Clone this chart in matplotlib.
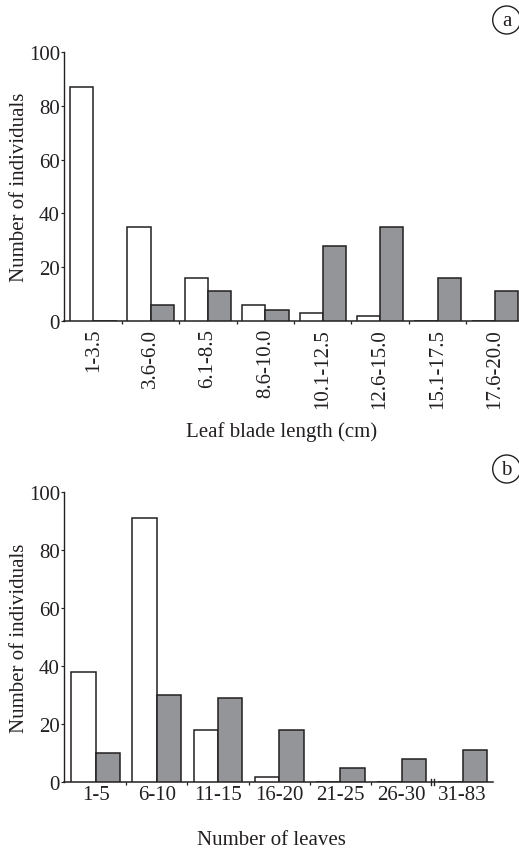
import matplotlib
matplotlib.use("Agg")
import matplotlib.pyplot as plt
from matplotlib.patches import Circle
import numpy as np

plt.rcParams['font.family'] = ['Liberation Serif', 'DejaVu Serif']

# Panel a data
cats_a = ["1-3.5", "3.6-6.0", "6.1-8.5", "8.6-10.0", "10.1-12.5", "12.6-15.0", "15.1-17.5", "17.6-20.0"]
white_a = [87, 35, 16, 6, 3, 2, 0, 0]
gray_a = [0, 6, 11, 4, 28, 35, 16, 11]

# Panel b data
cats_b = ["1-5", "6-10", "11-15", "16-20", "21-25", "26-30", "31-83"]
white_b = [38, 91, 18, 2, 0, 0, 0]
gray_b = [10, 30, 29, 18, 5, 8, 11]

yticks = [0, 20, 40, 60, 80, 100]

W, H = 519, 854
fig = plt.figure(figsize=(W / 100, H / 100), dpi=100)

ink = '#231f20'
grayc = '#939598'
fs = 15


def setup(ax, xlim):
    ax.set_xlim(*xlim)
    ax.set_ylim(0, 100)
    for s in ['top', 'right']:
        ax.spines[s].set_visible(False)
    ax.spines['left'].set_linewidth(1.0)
    ax.spines['bottom'].set_linewidth(1.1)
    ax.spines['left'].set_color(ink)
    ax.spines['bottom'].set_color(ink)
    ax.set_yticks(yticks)
    ax.set_yticklabels([str(v) for v in yticks], fontsize=fs, color=ink)
    ax.tick_params(axis='y', length=2, width=0.8, pad=1, color=ink)
    ax.tick_params(axis='x', which='major', length=0, color=ink)
    ax.tick_params(axis='x', which='minor', length=2, width=0.9, color=ink, direction='out')


def bars(ax, white, gray, w):
    x = np.arange(len(white))
    ax.bar(x - w / 2, white, w, color='white', edgecolor=ink, linewidth=1.1, zorder=3)
    ax.bar(x + w / 2, gray, w, color=grayc, edgecolor=ink, linewidth=1.1, zorder=3)
    return x


# Panel a
axa = fig.add_axes([64 / W, (H - 322) / H, (W - 64) / W, 269 / H])
setup(axa, (-0.51, 7.42))
xa = bars(axa, white_a, gray_a, 0.405)
axa.set_xticks(xa)
axa.set_xticklabels(cats_a, rotation=90, fontsize=fs, color=ink, ha='center', va='top')
axa.tick_params(axis='x', which='major', pad=5)
axa.set_xticks(np.arange(len(cats_a) - 1) + 0.5, minor=True)

# Panel b
axb = fig.add_axes([64 / W, (H - 783.3) / H, (493.3 - 64) / W, 290 / H])
setup(axb, (-0.518, 6.50))
xb = bars(axb, white_b, gray_b, 0.40)
axb.set_xticks(xb)
axb.set_xticklabels(cats_b, fontsize=fs, color=ink)
axb.tick_params(axis='x', which='major', pad=2)
axb.set_xticks(np.arange(len(cats_b) - 2) + 0.5, minor=True)
# axis break mark
for bx in (5.474, 5.533):
    axb.plot([bx, bx], [-1.1, 1.1], color=ink, lw=1.0, clip_on=False, zorder=5)

# Axis labels
fig.text(20 / W, (H - 187) / H, "Number of individuals", rotation=90, ha='center', va='center', fontsize=fs, color=ink)
fig.text(20 / W, (H - 638) / H, "Number of individuals", rotation=90, ha='center', va='center', fontsize=fs, color=ink)
fig.text(282 / W, (H - 432) / H, "Leaf blade length (cm)", ha='center', va='center', fontsize=fs, color=ink)
fig.text(271 / W, (H - 841) / H, "Number of leaves", ha='center', va='center', fontsize=fs, color=ink)

# Panel tags
for lab, cy in (("a", 21), ("b", 470)):
    c = Circle((506.7 / 100, (H - cy) / 100), 0.14, transform=fig.dpi_scale_trans,
               fill=False, edgecolor=ink, linewidth=1.0)
    fig.add_artist(c)
    fig.text(506.7 / W, (H - cy - 1) / H, lab, ha='center', va='center', fontsize=fs, color=ink)

fig.savefig("out.png", dpi=100)
